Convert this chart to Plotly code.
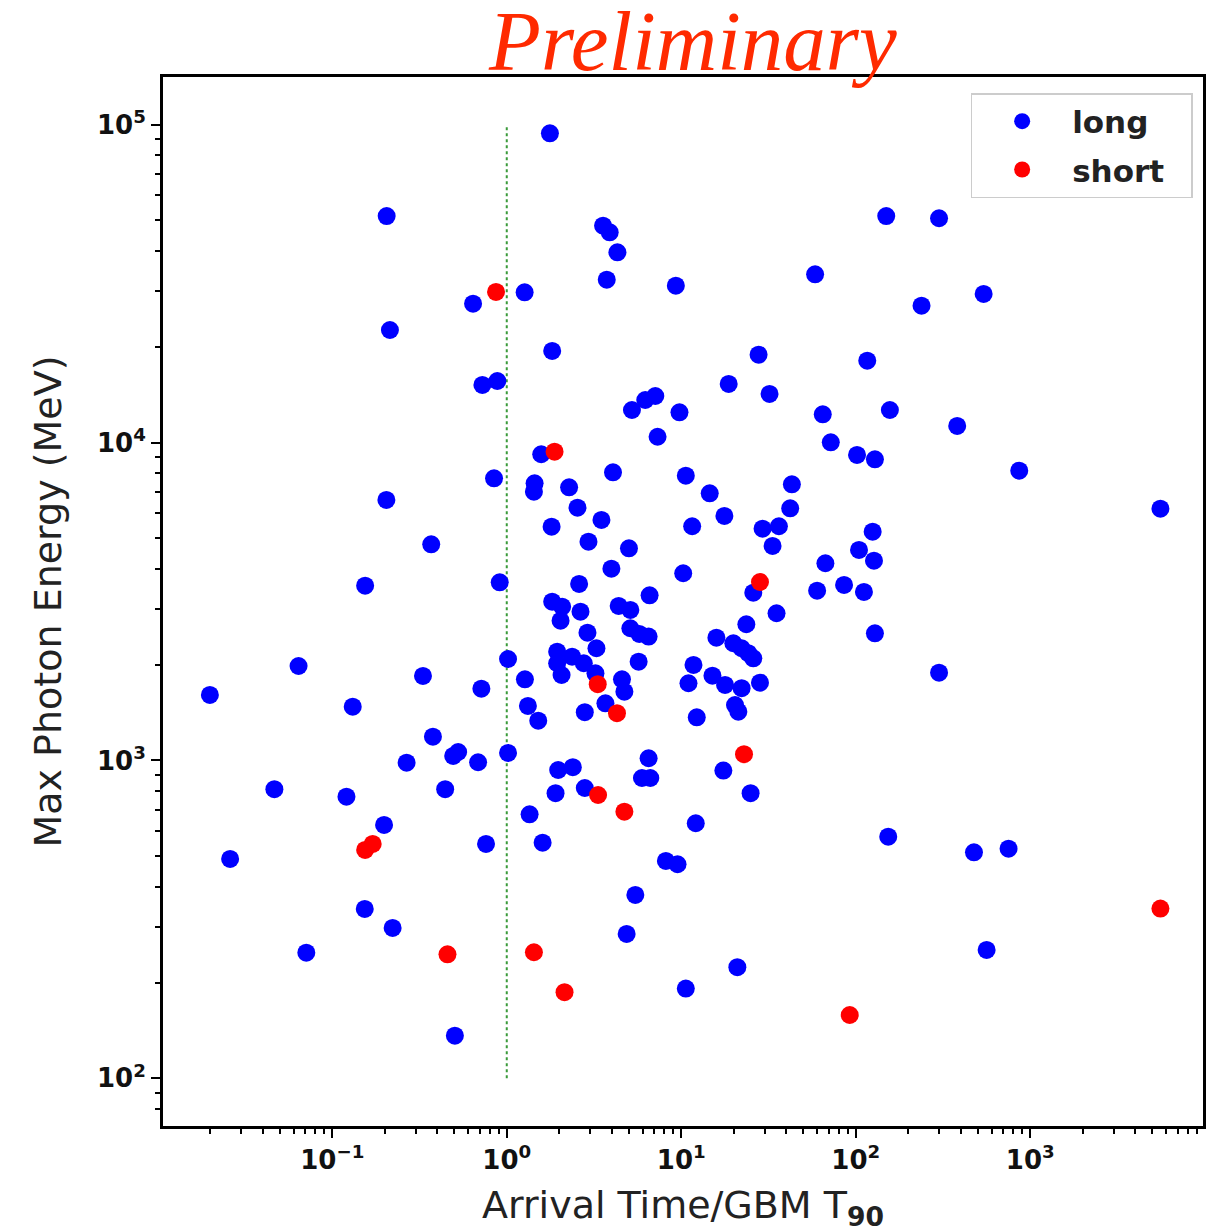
import plotly.graph_objects as go

# ---- data ----
long_x = [0.205, 0.641, 0.214, 0.725, 0.883, 1.767, 3.563, 3.89, 4.306, 3.741,
          1.266, 9.31, 58.5, 1.821, 27.74, 18.7, 32.06, 5.217, 6.22, 7.1,
          9.77, 64.7, 116.4, 149.5, 300.2, 238.2, 540.6, 156.9, 381.4, 0.8455,
          0.2042, 0.369, 0.1543, 0.9113, 1.017, 0.0641, 0.01989, 0.331, 0.7152, 0.131,
          0.3775, 0.4931, 0.5266, 0.2667, 0.685, 1.017, 0.04659, 0.1206, 0.4437, 0.1981,
          0.7607, 0.02598, 0.1535, 0.2218, 0.071, 0.5043, 1.904, 2.8, 5.953, 6.647,
          17.43, 24.97, 1.352, 12.11, 1.605, 8.164, 9.52, 5.456, 4.865, 20.96,
          10.62, 153.5, 475.8, 751, 562.3, 101.7, 128.8, 864.8, 5572, 125,
          104.4, 127.2, 111.4, 128.8, 300.2, 71.93, 85.7, 60.06, 66.99, 7.316,
          1.576, 4.063, 10.62, 43.05, 1.444, 1.431, 2.277, 14.56, 2.543, 42.1,
          3.488, 17.67, 1.807, 11.55, 29.24, 36.28, 2.94, 33.36, 5.015, 3.978,
          10.26, 25.87, 2.598, 6.586, 1.821, 2.077, 2.034, 2.646, 4.378, 5.108,
          35.16, 23.6, 5.108, 5.752, 6.5, 2.901, 15.9, 3.266, 19.89, 22.18,
          24.23, 25.87, 1.945, 2.369, 1.945, 2.061, 2.763, 3.223, 5.698, 11.75,
          1.271, 4.575, 4.721, 11.0, 15.09, 17.83, 22.18, 28.26, 3.676, 1.322,
          1.515, 2.8, 12.27, 20.33, 21.24, 1.971, 2.391, 6.5]
long_y = [51600, 27350, 22600, 15180, 15620, 93970, 48110, 45860, 39680, 32540,
          29700, 31150, 33840, 19420, 18900, 15290, 14220, 12660, 13610, 14010,
          12450, 12270, 18100, 51600, 50770, 26950, 29340, 12660, 11280, 7721,
          6598, 4786, 3546, 3634, 2085, 1982, 1607, 1844, 1682, 1476,
          1188, 1033, 1063, 984, 987, 1056, 811.8, 769, 811.8, 626.8,
          546, 489.8, 341, 297.3, 248.5, 136.2, 788.6, 819, 880.6, 880.6,
          928.9, 788.6, 677, 634.4, 551.3, 482.8, 471.4, 377.6, 284.6, 223.6,
          191.5, 575.8, 514, 527.8, 253.4, 9141, 8860, 8159, 6195, 5244,
          4593, 4250, 3388, 2512, 1888, 10020, 3565, 3421, 4172, 10430,
          9188, 8064, 7868, 7392, 7445, 7006, 7232, 6926, 6241, 6213,
          5708, 5876, 5438, 5454, 5359, 5454, 4878, 4728, 4650, 4012,
          3880, 3371, 3592, 3308, 3159, 3047, 2753, 2938, 3062, 2975,
          2904, 2682, 2605, 2500, 2452, 2523, 2433, 2254, 2337, 2254,
          2174, 2096, 2199, 2121, 2022, 1857, 2022, 1880, 2045, 1997,
          1800, 1800, 1646, 1749, 1848, 1728, 1688, 1757, 1513, 1484,
          1334, 1418, 1367, 1494, 1424, 933, 952, 1016]

short_x = [0.868, 1.879, 28.26, 3.322, 4.282, 22.89, 3.336, 4.721, 0.1543, 0.1705,
           0.4574, 1.431, 2.143, 92.35, 5572]
short_y = [29770, 9361, 3642, 1737, 1408, 1046, 778.5, 690, 522.9, 546,
           245.6, 249.2, 186.6, 158.2, 341.9]

assert len(long_x) == len(long_y)
assert len(short_x) == len(short_y)

t90_line_x = [1, 1]
t90_line_y = [100, 1e5]

x_tick_vals = [0.1, 1, 10, 100, 1000]
x_tick_text = ["10<sup>\u22121</sup>", "10<sup>0</sup>", "10<sup>1</sup>",
               "10<sup>2</sup>", "10<sup>3</sup>"]
y_tick_vals = [100, 1000, 10000, 100000]
y_tick_text = ["10<sup>2</sup>", "10<sup>3</sup>", "10<sup>4</sup>", "10<sup>5</sup>"]

minor_x = [k * 10.0 ** e for e in range(-2, 4) for k in range(2, 10)]
minor_y = [k * 10.0 ** e for e in range(1, 6) for k in range(2, 10)]

fig = go.Figure()

fig.add_trace(go.Scatter(x=t90_line_x, y=t90_line_y, mode="lines",
                         line=dict(color="#3a9a3a", width=2, dash="dot"),
                         showlegend=False, hoverinfo="skip"))

fig.add_trace(go.Scatter(x=long_x, y=long_y, mode="markers",
                         marker=dict(color="#0000ff", size=18, line=dict(width=0)),
                         name="long\u00a0\u00a0\u00a0", legendgroup="a"))
fig.add_trace(go.Scatter(x=short_x, y=short_y, mode="markers",
                         marker=dict(color="#ff0000", size=18, line=dict(width=0)),
                         name="short\u00a0\u00a0", legendgroup="b"))

axis_common = dict(
    type="log", showgrid=False, zeroline=False,
    showline=True, linecolor="black", linewidth=3, mirror=True,
    ticks="outside", ticklen=9, tickwidth=2, tickcolor="black",
    tickfont=dict(family="DejaVu Sans", size=26, color="#111111", weight="bold"),
    tickmode="array",
)

fig.update_xaxes(**axis_common, range=[-1.97, 3.99],
                 tickvals=x_tick_vals, ticktext=x_tick_text,
                 minor=dict(ticks="outside", ticklen=5, tickwidth=1.5,
                            tickcolor="black", tickvals=minor_x),
                 title=dict(text="Arrival Time/GBM T<sub><b>90</b></sub>",
                            font=dict(family="DejaVu Sans", size=38, color="#222222"),
                            standoff=18))
fig.update_yaxes(**axis_common, range=[1.85, 5.15],
                 tickvals=y_tick_vals, ticktext=y_tick_text,
                 minor=dict(ticks="outside", ticklen=5, tickwidth=1.5,
                            tickcolor="black", tickvals=minor_y),
                 title=dict(text="Max Photon Energy (MeV)",
                            font=dict(family="DejaVu Sans", size=38, color="#222222"),
                            standoff=24))

fig.add_annotation(text="<i>Preliminary</i>", xref="paper", yref="paper",
                   x=0.509, y=1.0343, xanchor="center", yanchor="middle",
                   showarrow=False,
                   font=dict(family="Liberation Serif", size=85, color="#ff2a00"))

fig.update_layout(
    width=1211, height=1232, autosize=False,
    margin=dict(l=163, r=5, t=77, b=106),
    paper_bgcolor="white", plot_bgcolor="white",
    legend=dict(x=0.7766, y=0.9847, xanchor="left", yanchor="top",
                bgcolor="white", bordercolor="#cccccc", borderwidth=1.5,
                font=dict(family="DejaVu Sans", size=31, color="#222222", weight="bold"),
                itemwidth=90, tracegroupgap=5),
)

fig.write_html("out.html", config={"displayModeBar": False},
               post_script="document.body.style.margin='0';")
